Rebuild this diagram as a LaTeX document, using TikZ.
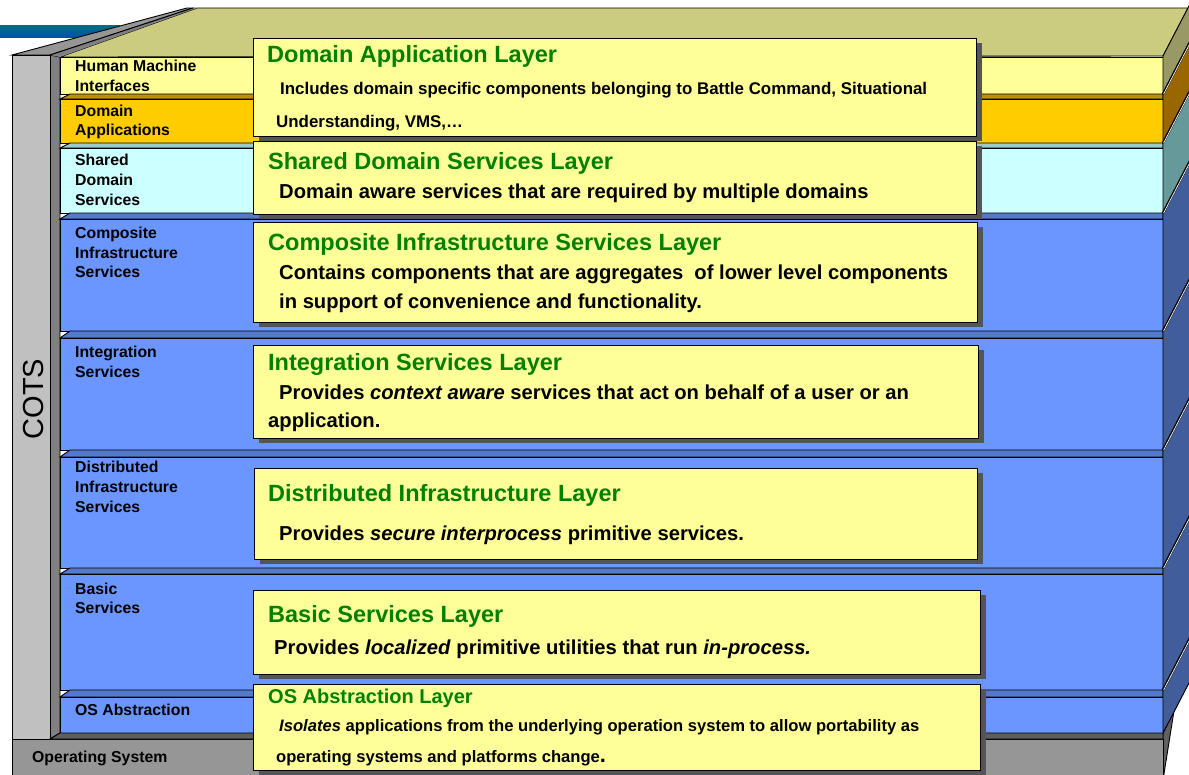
\documentclass[tikz,border=0pt]{standalone}
\usepackage{fontspec}
\setmainfont{Liberation Sans}
\usetikzlibrary{shadows}

\newcommand\pxfont[1]{\fontsize{#1}{#1}\selectfont}

\definecolor{khaki}{RGB}{204,204,128}
\definecolor{khakiside}{RGB}{153,153,102}
\definecolor{hmifront}{RGB}{255,255,153}
\definecolor{appfront}{RGB}{255,204,0}
\definecolor{apptop}{RGB}{190,145,0}
\definecolor{appside}{RGB}{153,102,0}
\definecolor{shfront}{RGB}{204,255,255}
\definecolor{shtop}{RGB}{153,204,204}
\definecolor{shside}{RGB}{102,153,153}
\definecolor{bfront}{RGB}{107,150,255}
\definecolor{btop}{RGB}{85,122,204}
\definecolor{bside}{RGB}{66,93,156}
\definecolor{cotsfront}{RGB}{192,192,192}
\definecolor{cotsside}{RGB}{128,128,128}
\definecolor{cotstop}{RGB}{150,150,150}
\definecolor{osfront}{RGB}{150,150,150}
\definecolor{ostop}{RGB}{95,95,95}
\definecolor{osside}{RGB}{96,96,96}
\definecolor{notefill}{RGB}{255,255,153}
\definecolor{noteshadow}{RGB}{85,85,85}
\definecolor{titlegreen}{RGB}{0,128,0}
\definecolor{barteal}{RGB}{0,112,128}
\definecolor{barblue}{RGB}{0,80,176}

\begin{document}
\begin{tikzpicture}[x=1pt,y=-1pt,
  edge/.style={draw=black,line width=0.9pt,line join=miter},
  notebox/.style={draw=black,line width=0.9pt,fill=notefill,inner sep=0pt,
    general shadow={fill=noteshadow,shadow xshift=6pt,shadow yshift=-5pt}},
  notetitle/.style={anchor=base west,inner sep=0pt,text=titlegreen,
    font=\pxfont{23.5}\bfseries},
  notebody/.style={anchor=base west,inner sep=0pt,font=\pxfont{20.2}\bfseries},
  topbody/.style={anchor=base west,inner sep=0pt,font=\pxfont{16.9}\bfseries},
  osbody/.style={anchor=base west,inner sep=0pt,font=\pxfont{16.6}\bfseries},
  layerlabel/.style={anchor=base west,inner sep=0pt,font=\pxfont{15.8}\bfseries},
]
\useasboundingbox (0,0) rectangle (1189,774);
\clip (0,0) rectangle (1189,774);

% header bar behind the stack
\shade[top color=barteal,bottom color=barblue] (0,25) rectangle (120,37);

% operating system slab: side and front
\fill[osside,edge] (1163,733) -- (1163,780) -- (1190,610) -- (1190,680) -- cycle;
\fill[osfront,edge] (12,739) rectangle (1163,790);

% top face of the stack
\fill[khaki,edge] (60,57) -- (1163,56) -- (1188,8) -- (197,8) -- cycle;

% COTS column: top, side, front
\fill[cotstop,edge] (12,55) -- (50,55) -- (193,8) -- (187,8) -- cycle;
\fill[cotsside,edge] (50,55) -- (60,57) -- (60,733) -- (50,739) -- cycle;
\fill[cotsside] (50,55) -- (60,57) -- (197,8) -- (193,8) -- cycle;
\draw[edge] (50,55) -- (193,8);
\fill[cotsfront,edge] (12,55) rectangle (50,739);

% service layers: top strip, front face, right side face
% #1 strip top, #2 front top, #3 front bottom, #4 strip, #5 front, #6 side
\newcommand\stacklayer[6]{%
  \fill[#4,edge] (60,#2) -- (70,#1) -- (1163,#1) -- (1163,#2) -- cycle;
  \fill[#5,edge] (60,#2) rectangle (1163,#3);
  \fill[#6,edge] (1163,#1) -- (1163,#3) -- (1190,#3-52) -- (1190,#1-52) -- cycle;
}
\fill[hmifront,edge] (60,57) rectangle (1163,94);
\fill[khakiside,edge] (1163,56) -- (1163,94) -- (1190,42) -- (1190,4) -- cycle;
\stacklayer{94}{99}{143}{apptop}{appfront}{appside}
\stacklayer{143}{148}{213}{shtop}{shfront}{shside}
\stacklayer{213}{219}{331}{btop}{bfront}{bside}
\stacklayer{331}{338}{450}{btop}{bfront}{bside}
\stacklayer{450}{457}{568}{btop}{bfront}{bside}
\stacklayer{568}{574}{690}{btop}{bfront}{bside}
\stacklayer{690}{697}{733}{btop}{bfront}{bside}

% seams between the side faces
\foreach \y in {94,143,213,331,450,568,690}{
  \draw[line width=2.4pt] (1163,\y) -- (1190,\y-52);
  \draw[white,line width=0.7pt] (1163.6,\y) -- (1190.6,\y-52);
}

% top of the operating system slab
\fill[ostop,edge] (50,739) -- (60,733) -- (1163,733) -- (1163,739) -- cycle;

% layer names on the stack
\node[layerlabel] (hmi1) at (75,71) {Human Machine};
\node[layerlabel] (hmi2) at (75,91) {Interfaces};
\node[layerlabel] (app1) at (75,116) {Domain};
\node[layerlabel] (app2) at (75,135) {Applications};
\node[layerlabel] (sh1) at (75,165) {Shared};
\node[layerlabel] (sh2) at (75,185) {Domain};
\node[layerlabel] (sh3) at (75,205) {Services};
\node[layerlabel] (ci1) at (75,238) {Composite};
\node[layerlabel] (ci2) at (75,258) {Infrastructure};
\node[layerlabel] (ci3) at (75,277) {Services};
\node[layerlabel] (in1) at (75,357) {Integration};
\node[layerlabel] (in2) at (75,377) {Services};
\node[layerlabel] (di1) at (75,472) {Distributed};
\node[layerlabel] (di2) at (75,492) {Infrastructure};
\node[layerlabel] (di3) at (75,512) {Services};
\node[layerlabel] (ba1) at (75,594) {Basic};
\node[layerlabel] (ba2) at (75,613) {Services};
\node[layerlabel] (osa) at (75,715) {OS Abstraction};
\node[layerlabel] (os) at (32,762) {Operating System};
\node[rotate=90,inner sep=0pt,font=\pxfont{29}] (cots) at (34,399) {COTS};

% description notes
\node[notebox,anchor=north west,minimum width=723pt,minimum height=98pt] (n1) at (253,38) {};
\node[notebox,anchor=north west,minimum width=723pt,minimum height=73pt] (n2) at (253,141) {};
\node[notebox,anchor=north west,minimum width=724pt,minimum height=100pt] (n3) at (253,222) {};
\node[notebox,anchor=north west,minimum width=725pt,minimum height=93pt] (n4) at (253,345) {};
\node[notebox,anchor=north west,minimum width=723pt,minimum height=91pt] (n5) at (254,468) {};
\node[notebox,anchor=north west,minimum width=727pt,minimum height=84pt] (n6) at (253,590) {};
\node[notebox,anchor=north west,minimum width=727pt,minimum height=86pt] (n7) at (253,684) {};

\node[notetitle] (t1) at (267,62) {Domain Application Layer};
\node[topbody] (b1a) at (280,94) {Includes domain specific components belonging to Battle Command, Situational};
\node[topbody] (b1b) at (276,127) {Understanding, VMS,…};

\node[notetitle] (t2) at (268,169) {Shared Domain Services Layer};
\node[notebody] (b2a) at (279,198) {Domain aware services that are required by multiple domains};

\node[notetitle] (t3) at (268,250) {Composite Infrastructure Services Layer};
\node[notebody] (b3a) at (279,279) {Contains components that are aggregates\ \ of lower level components};
\node[notebody] (b3b) at (279,308) {in support of convenience and functionality.};

\node[notetitle] (t4) at (268,370) {Integration Services Layer};
\node[notebody] (b4a) at (279,399) {Provides \textit{context aware} services that act on behalf of a user or an};
\node[notebody] (b4b) at (268,427) {application.};

\node[notetitle] (t5) at (268,501) {Distributed Infrastructure Layer};
\node[notebody] (b5a) at (279,540) {Provides \textit{secure interprocess} primitive services.};

\node[notetitle] (t6) at (268,622) {Basic Services Layer};
\node[notebody] (b6a) at (274,654) {Provides \textit{localized} primitive utilities that run \textit{in-process.}};

\node[notetitle,font=\pxfont{20}\bfseries] (t7) at (268,703) {OS Abstraction Layer};
\node[osbody] (b7a) at (279,731) {\textit{Isolates} applications from the underlying operation system to allow portability as};
\node[osbody] (b7b) at (276,762) {operating systems and platforms change{\pxfont{22}.}};
\end{tikzpicture}
\end{document}
